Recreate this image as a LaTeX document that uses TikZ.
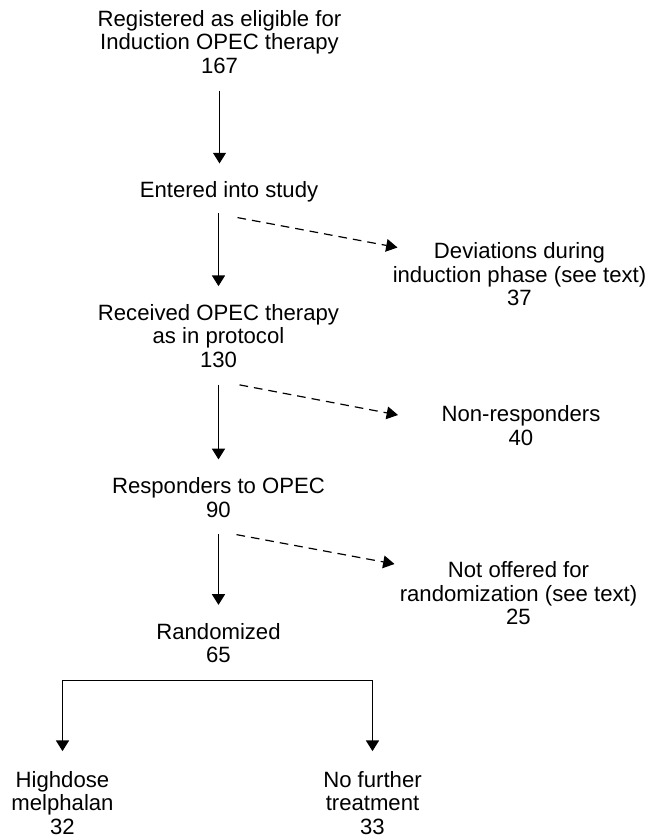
\documentclass[tikz,border=0pt]{standalone}
\usepackage{fontspec}
\setmainfont{Liberation Sans}
\usetikzlibrary{arrows.meta,calc}
\tikzset{flow/.style={-{Triangle[length=8pt,width=9.75pt]}, line width=0.9pt, shorten <=12.5pt, shorten >=13.5pt},
  drop/.style={-{Triangle[length=8.5pt,width=9.5pt]}, line width=0.9pt, dash pattern=on 6.5pt off 4.5pt},
  split/.style={{Triangle[length=8pt,width=9.75pt]}-{Triangle[length=8pt,width=9.75pt]}, line width=0.9pt, shorten <=15pt, shorten >=15pt},
  stage/.style={align=center, inner sep=0pt, font=\fontsize{16.6pt}{17.6pt}\selectfont}}

\begin{document}
\begin{tikzpicture}[x=0.75pt, y=-0.75pt]
  \useasboundingbox (0,0) rectangle (662,840);
  % main line
  \node[stage] (reg) at (219.5,42) {Registered as eligible for\\Induction OPEC therapy\\167};
  \node[stage] (ent) at (229,192) {Entered into study};
  \node[stage] (rec) at (218.5,336) {Received OPEC therapy\\as in protocol\\130};
  \node[stage] (resp) at (218.5,497.5) {Responders to OPEC\\90};
  \node[stage] (rand) at (218.5,643) {Randomized\\65};
  % drop-outs
  \node[stage] (dev) at (519.5,274.5) {Deviations during\\induction phase (see text)\\37};
  \node[stage] (nonr) at (521,425.5) {Non-responders\\40};
  \node[stage] (noto) at (518.5,593.5) {Not offered for\\randomization (see text)\\25};
  % arms
  \node[stage] (high) at (62.5,803) {Highdose\\melphalan\\32};
  \node[stage] (nof) at (372.5,803) {No further\\treatment\\33};
  \draw[flow] (reg.south) -- (reg.south |- ent.north);
  \draw[flow, shorten <=8pt] (rec.north |- ent.south) -- (rec.north);
  \draw[flow] (rec.south) -- (resp.north);
  \draw[flow] (resp.south) -- (rand.north);
  \draw[drop] ($(rec.north |- ent.south)+(19,15)$) -- ($(dev.center)+(-122,-27)$);
  \draw[drop] ($(rec.south)+(21,17)$) -- ($(nonr.center)+(-123,-10.5)$);
  \draw[drop] ($(resp.south)+(18,17)$) -- ($(noto.center)+(-124,-29.5)$);
  \coordinate (bar) at ($(rand.south)+(0,17)$);
  \draw[split] (high.north) |- (bar -| nof.north) -- (nof.north);
\end{tikzpicture}
\end{document}
